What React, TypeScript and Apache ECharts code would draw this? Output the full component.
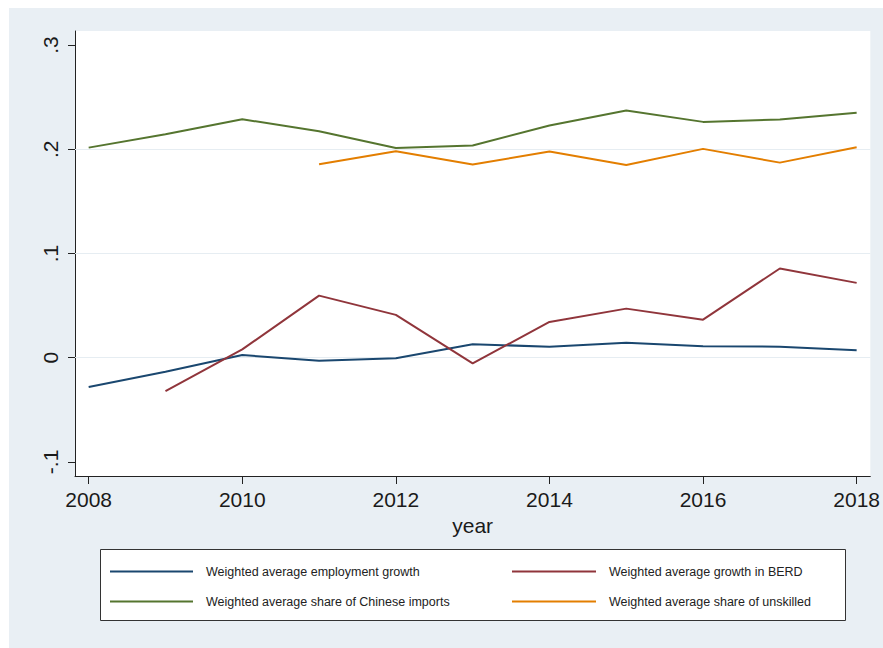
import React, { useEffect, useRef } from "react";
import * as echarts from "echarts";

const years = [2008, 2009, 2010, 2011, 2012, 2013, 2014, 2015, 2016, 2017, 2018];
const employmentGrowth = [-0.028, -0.0135, 0.0026, -0.0029, -0.0006, 0.0129, 0.0106, 0.0144, 0.011, 0.0106, 0.0071];
const berdGrowth = [null, -0.032, 0.008, 0.0596, 0.0411, -0.0054, 0.0343, 0.0471, 0.0365, 0.0856, 0.0718];
const chineseShare = [0.2016, 0.2144, 0.2288, 0.2173, 0.2013, 0.2036, 0.2228, 0.2372, 0.2263, 0.2286, 0.235];
const unskilledShare = [null, null, null, 0.1856, 0.1981, 0.1853, 0.1978, 0.185, 0.2004, 0.1872, 0.2019];

const xTicks = [2008, 2010, 2012, 2014, 2016, 2018];
const yTicks = [-0.1, 0, 0.1, 0.2, 0.3];
const gridValues = [0, 0.1, 0.2];

const seriesNames = [
  "Weighted average employment growth",
  "Weighted average growth in BERD",
  "Weighted average share of Chinese imports",
  "Weighted average share of unskilled",
];
const seriesColors = ["#1a476f", "#90353b", "#55752f", "#e37e00"];
const seriesValues = [employmentGrowth, berdGrowth, chineseShare, unskilledShare];

const FONT = "'Liberation Sans', Arial, Helvetica, sans-serif";

function fmtY(v: number): string {
  if (Math.abs(v) < 1e-9) return "0";
  const s = String(Math.round(Math.abs(v) * 10) / 10).replace(/^0/, "");
  return (v < 0 ? "-" : "") + s;
}

export default function App() {
  const ref = useRef<HTMLDivElement>(null);
  useEffect(() => {
    if (!ref.current) return;
    const chart = echarts.init(ref.current, null, { renderer: "svg" });
    const series: any[] = seriesValues.map((vals, i) => ({
      name: seriesNames[i],
      type: "line",
      data: years
        .map((y, j) => [y, vals[j]])
        .filter((p) => p[1] !== null && p[1] !== undefined),
      symbol: "none",
      showSymbol: false,
      lineStyle: { color: seriesColors[i], width: 2 },
      itemStyle: { color: seriesColors[i] },
      z: 5,
    }));
    series.push({
      name: "grid",
      type: "line",
      data: [],
      silent: true,
      z: 1,
      markLine: {
        silent: true,
        symbol: ["none", "none"],
        label: { show: false },
        lineStyle: { color: "#e6edf2", width: 1, type: "solid" },
        data: gridValues.map((v) => ({ yAxis: v })),
      },
    });
    const legendText = {
      fontSize: 12.5,
      color: "#222",
      fontFamily: FONT,
      lineHeight: 14,
      padding: [0, 0, 0, 8],
    };
    chart.setOption({
      animation: false,
      backgroundColor: "transparent",
      textStyle: { fontFamily: FONT },
      graphic: [
        {
          type: "rect",
          z: -10,
          silent: true,
          shape: { x: 9, y: 8, width: 874, height: 640 },
          style: { fill: "#e9eff4" },
        },
        {
          type: "rect",
          z: 100,
          silent: true,
          shape: { x: 100.5, y: 549.5, width: 745, height: 71 },
          style: { fill: "#ffffff", stroke: "#333333", lineWidth: 1 },
        },
      ],
      grid: {
        left: 75,
        top: 31,
        right: 12,
        bottom: 172,
        show: true,
        backgroundColor: "#ffffff",
        borderWidth: 0,
      },
      xAxis: {
        type: "value",
        min: 2007.822,
        max: 2018.178,
        name: "year",
        nameLocation: "middle",
        nameGap: 36,
        nameTextStyle: { fontSize: 21, color: "#1a1a1a", fontFamily: FONT },
        axisLine: { show: true, onZero: false, lineStyle: { color: "#222", width: 1 } },
        axisTick: { show: true, length: 8, customValues: xTicks, lineStyle: { color: "#222" } },
        axisLabel: {
          customValues: xTicks,
          fontSize: 21,
          color: "#1a1a1a",
          margin: 13,
          fontFamily: FONT,
          formatter: (v: number) => String(Math.round(v)),
        },
        splitLine: { show: false },
      },
      yAxis: {
        type: "value",
        min: -0.1135,
        max: 0.3135,
        axisLine: { show: true, onZero: false, lineStyle: { color: "#222", width: 1 } },
        axisTick: { show: true, length: 7, customValues: yTicks, lineStyle: { color: "#222" } },
        axisLabel: {
          customValues: yTicks,
          rotate: 90,
          fontSize: 21,
          color: "#1a1a1a",
          margin: 14,
          fontFamily: FONT,
          formatter: (v: number) => fmtY(v),
        },
        splitLine: { show: false },
      },
      legend: [
        {
          orient: "vertical",
          left: 110,
          top: 564.5,
          padding: 0,
          icon: "rect",
          itemWidth: 83,
          itemHeight: 2,
          itemGap: 16,
          z: 110,
          data: [seriesNames[0], seriesNames[2]],
          textStyle: legendText,
        },
        {
          orient: "vertical",
          left: 512,
          top: 564.5,
          padding: 0,
          icon: "rect",
          itemWidth: 84,
          itemHeight: 2,
          itemGap: 16,
          z: 110,
          data: [seriesNames[1], seriesNames[3]],
          textStyle: legendText,
        },
      ],
      series,
    });
    return () => chart.dispose();
  }, []);
  return (
    <div
      ref={ref}
      style={{ position: "fixed", left: 0, top: 0, width: 883, height: 648, background: "#ffffff" }}
    />
  );
}
